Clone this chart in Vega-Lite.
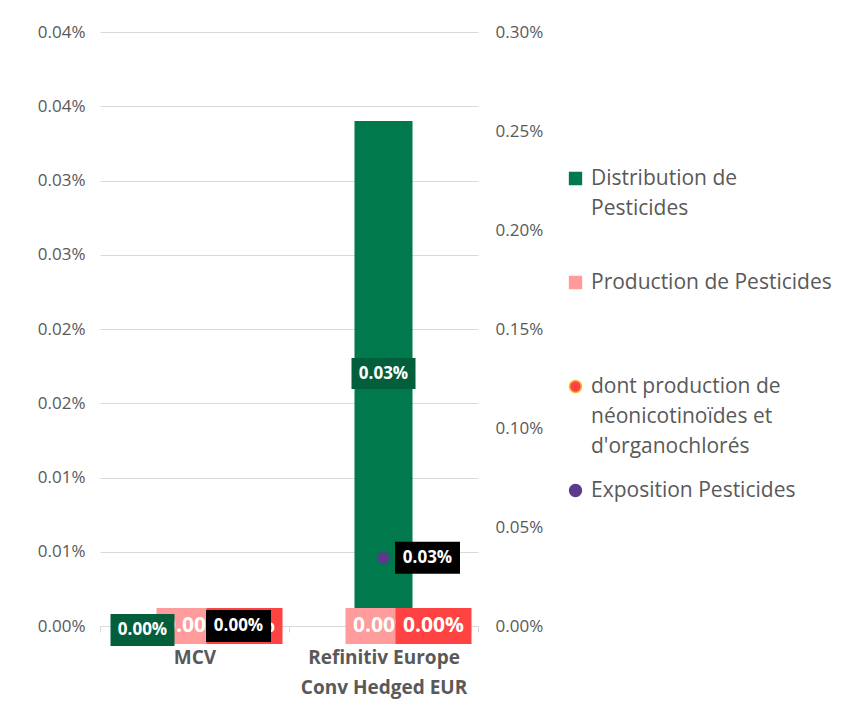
{
  "$schema": "https://vega.github.io/schema/vega-lite/v6.json",
  "width": 378,
  "height": 594,
  "autosize": "none",
  "padding": {"left": 100, "top": 32, "right": 379, "bottom": 83},
  "background": "#ffffff",
  "config": {
    "font": "Open Sans",
    "view": {"stroke": null},
    "style": {"guide-label": {"lineHeight": 30}}
  },
  "data": {
    "values": [
      {"cat": "MCV", "series": "Distribution de Pesticides", "value": 0},
      {"cat": "Refinitiv Europe Conv Hedged EUR", "series": "Distribution de Pesticides", "value": 0.00034},
      {"cat": "MCV", "series": "Production de Pesticides", "value": 0},
      {"cat": "Refinitiv Europe Conv Hedged EUR", "series": "Production de Pesticides", "value": 0},
      {"cat": "MCV", "series": "dont production de néonicotinoïdes et d'organochlorés", "value": 0},
      {"cat": "Refinitiv Europe Conv Hedged EUR", "series": "dont production de néonicotinoïdes et d'organochlorés", "value": 0},
      {"cat": "MCV", "series": "Exposition Pesticides", "value": 0},
      {"cat": "Refinitiv Europe Conv Hedged EUR", "series": "Exposition Pesticides", "value": 0.000345}
    ]
  },
  "encoding": {
    "x": {
      "field": "cat", "type": "nominal",
      "sort": ["MCV", "Refinitiv Europe Conv Hedged EUR"],
      "scale": {"paddingInner": 0, "paddingOuter": 0},
      "axis": {
        "title": null, "labelAngle": 0, "labelFontWeight": "bold", "labelFontSize": 19,
        "labelColor": "#595959", "labelPadding": 16, "domainColor": "#D9D9D9",
        "tickColor": "#D9D9D9", "tickBand": "extent", "tickSize": 6, "labelLimit": 300,
        "labelExpr": "datum.value == 'Refinitiv Europe Conv Hedged EUR' ? ['Refinitiv Europe', 'Conv Hedged EUR'] : datum.label"
      }
    }
  },
  "layer": [
    {
      "transform": [{"filter": {"field": "series", "equal": "Distribution de Pesticides"}}],
      "mark": {"type": "bar", "size": 58},
      "encoding": {
        "y": {
          "field": "value", "type": "quantitative",
          "scale": {"domain": [0, 0.0004], "nice": false},
          "axis": {
            "orient": "left", "title": null,
            "values": [0, 0.00005, 0.0001, 0.00015, 0.0002, 0.00025, 0.0003, 0.00035, 0.0004],
            "grid": true, "gridColor": "#D9D9D9", "domain": false, "ticks": false,
            "labelPadding": 15, "labelFontSize": 17, "labelColor": "#595959",
            "labelExpr": "format(datum.value + 1e-12, '.2%')"
          }
        },
        "color": {
          "field": "series", "type": "nominal",
          "scale": {
            "domain": ["Distribution de Pesticides", "Production de Pesticides", "dont production de néonicotinoïdes et d'organochlorés", "Exposition Pesticides"],
            "range": ["#007A4C", "#FF9B9B", "#FF4343", "#5C3A8C"]
          },
          "legend": {
            "title": null, "orient": "none", "direction": "vertical", "legendX": 465, "legendY": 136,
            "padding": 0, "labelFontSize": 21, "labelColor": "#595959", "symbolSize": 140,
            "labelOffset": 5, "rowPadding": 22, "labelLimit": 400, "symbolStrokeWidth": 1.5,
            "labelExpr": "datum.label == 'Distribution de Pesticides' ? ['Distribution de', 'Pesticides', ''] : datum.label == 'Production de Pesticides' ? ['Production de Pesticides', '', ''] : datum.label == 'Exposition Pesticides' ? ['Exposition Pesticides', '', ''] : ['dont production de', 'néonicotinoïdes et', \"d'organochlorés\"]"
          }
        }
      }
    },
    {
      "transform": [{"filter": {"field": "series", "oneOf": ["dont production de néonicotinoïdes et d'organochlorés", "Exposition Pesticides"]}}],
      "mark": {"type": "point", "filled": true, "size": 110, "opacity": 1, "strokeWidth": 1.5},
      "encoding": {
        "y": {
          "field": "value", "type": "quantitative",
          "scale": {"domain": [0, 0.003], "nice": false},
          "axis": {
            "orient": "right", "title": null,
            "values": [0, 0.0005, 0.001, 0.0015, 0.002, 0.0025, 0.003],
            "grid": false, "domain": false, "ticks": false,
            "labelPadding": 17, "labelFontSize": 17, "labelColor": "#595959",
            "labelExpr": "format(datum.value + 1e-12, '.2%')"
          }
        },
        "color": {"field": "series", "type": "nominal"},
        "shape": {
          "field": "series", "type": "nominal",
          "scale": {
            "domain": ["Distribution de Pesticides", "Production de Pesticides", "dont production de néonicotinoïdes et d'organochlorés", "Exposition Pesticides"],
            "range": ["square", "square", "circle", "circle"]
          }
        },
        "stroke": {
          "field": "series", "type": "nominal",
          "scale": {
            "domain": ["Distribution de Pesticides", "Production de Pesticides", "dont production de néonicotinoïdes et d'organochlorés", "Exposition Pesticides"],
            "range": ["#007A4C", "#FF9B9B", "#F5B335", "#5C3A8C"]
          }
        }
      }
    },
    {
      "transform": [{"filter": {"field": "series", "equal": "Production de Pesticides"}}],
      "mark": {"type": "tick", "thickness": 36, "color": "#FF9B9B", "opacity": 1},
      "encoding": {
        "y": {"field": "value", "type": "quantitative", "scale": {"domain": [0, 0.0004], "nice": false}, "axis": null},
        "size": {"value": 76}
      }
    },
    {
      "transform": [{"filter": {"field": "series", "equal": "Production de Pesticides"}}],
      "mark": {"type": "text", "color": "#FFFFFF", "fontWeight": "bold", "fontSize": 21, "baseline": "middle"},
      "encoding": {
        "y": {"field": "value", "type": "quantitative", "scale": {"domain": [0, 0.0004], "nice": false}, "axis": null},
        "text": {"field": "value", "type": "quantitative", "format": ".2%"}
      }
    },
    {
      "transform": [{"filter": {"field": "series", "equal": "dont production de néonicotinoïdes et d'organochlorés"}}],
      "mark": {"type": "tick", "thickness": 36, "color": "#FF4343", "opacity": 1, "xOffset": 50},
      "encoding": {
        "y": {"field": "value", "type": "quantitative", "scale": {"domain": [0, 0.003], "nice": false}, "axis": null},
        "size": {"value": 76}
      }
    },
    {
      "transform": [{"filter": {"field": "series", "equal": "dont production de néonicotinoïdes et d'organochlorés"}}],
      "mark": {"type": "text", "color": "#FFFFFF", "fontWeight": "bold", "fontSize": 21, "baseline": "middle", "xOffset": 50},
      "encoding": {
        "y": {"field": "value", "type": "quantitative", "scale": {"domain": [0, 0.003], "nice": false}, "axis": null},
        "text": {"field": "value", "type": "quantitative", "format": ".2%"}
      }
    },
    {
      "transform": [{"filter": {"field": "series", "equal": "Exposition Pesticides"}}],
      "mark": {"type": "tick", "thickness": 32, "color": "#000000", "opacity": 1, "xOffset": 44},
      "encoding": {
        "y": {"field": "value", "type": "quantitative", "scale": {"domain": [0, 0.003], "nice": false}, "axis": null},
        "size": {"value": 65}
      }
    },
    {
      "transform": [{"filter": {"field": "series", "equal": "Exposition Pesticides"}}],
      "mark": {"type": "text", "color": "#FFFFFF", "fontWeight": "bold", "fontSize": 17, "baseline": "middle", "xOffset": 44},
      "encoding": {
        "y": {"field": "value", "type": "quantitative", "scale": {"domain": [0, 0.003], "nice": false}, "axis": null},
        "text": {"field": "value", "type": "quantitative", "format": ".2%"}
      }
    },
    {
      "transform": [{"filter": {"field": "series", "equal": "Distribution de Pesticides"}}, {"filter": {"field": "cat", "equal": "MCV"}}],
      "mark": {"type": "tick", "thickness": 32, "color": "#035E3C", "opacity": 1, "xOffset": -52, "yOffset": 4},
      "encoding": {
        "y": {"field": "value", "type": "quantitative", "scale": {"domain": [0, 0.0004], "nice": false}, "axis": null},
        "size": {"value": 64}
      }
    },
    {
      "transform": [{"filter": {"field": "series", "equal": "Distribution de Pesticides"}}, {"filter": {"field": "cat", "equal": "MCV"}}],
      "mark": {"type": "text", "color": "#FFFFFF", "fontWeight": "bold", "fontSize": 17, "baseline": "middle", "xOffset": -52, "yOffset": 4},
      "encoding": {
        "y": {"field": "value", "type": "quantitative", "scale": {"domain": [0, 0.0004], "nice": false}, "axis": null},
        "text": {"field": "value", "type": "quantitative", "format": ".2%"}
      }
    },
    {
      "transform": [{"filter": {"field": "series", "equal": "Distribution de Pesticides"}}, {"filter": {"field": "cat", "equal": "Refinitiv Europe Conv Hedged EUR"}}, {"calculate": "datum.value / 2", "as": "mid"}],
      "mark": {"type": "tick", "thickness": 31, "color": "#035E3C", "opacity": 1},
      "encoding": {
        "y": {"field": "mid", "type": "quantitative", "scale": {"domain": [0, 0.0004], "nice": false}, "axis": null},
        "size": {"value": 64}
      }
    },
    {
      "transform": [{"filter": {"field": "series", "equal": "Distribution de Pesticides"}}, {"filter": {"field": "cat", "equal": "Refinitiv Europe Conv Hedged EUR"}}, {"calculate": "datum.value / 2", "as": "mid"}],
      "mark": {"type": "text", "color": "#FFFFFF", "fontWeight": "bold", "fontSize": 17, "baseline": "middle"},
      "encoding": {
        "y": {"field": "mid", "type": "quantitative", "scale": {"domain": [0, 0.0004], "nice": false}, "axis": null},
        "text": {"field": "value", "type": "quantitative", "format": ".2%"}
      }
    }
  ],
  "resolve": {"scale": {"y": "independent"}}
}
